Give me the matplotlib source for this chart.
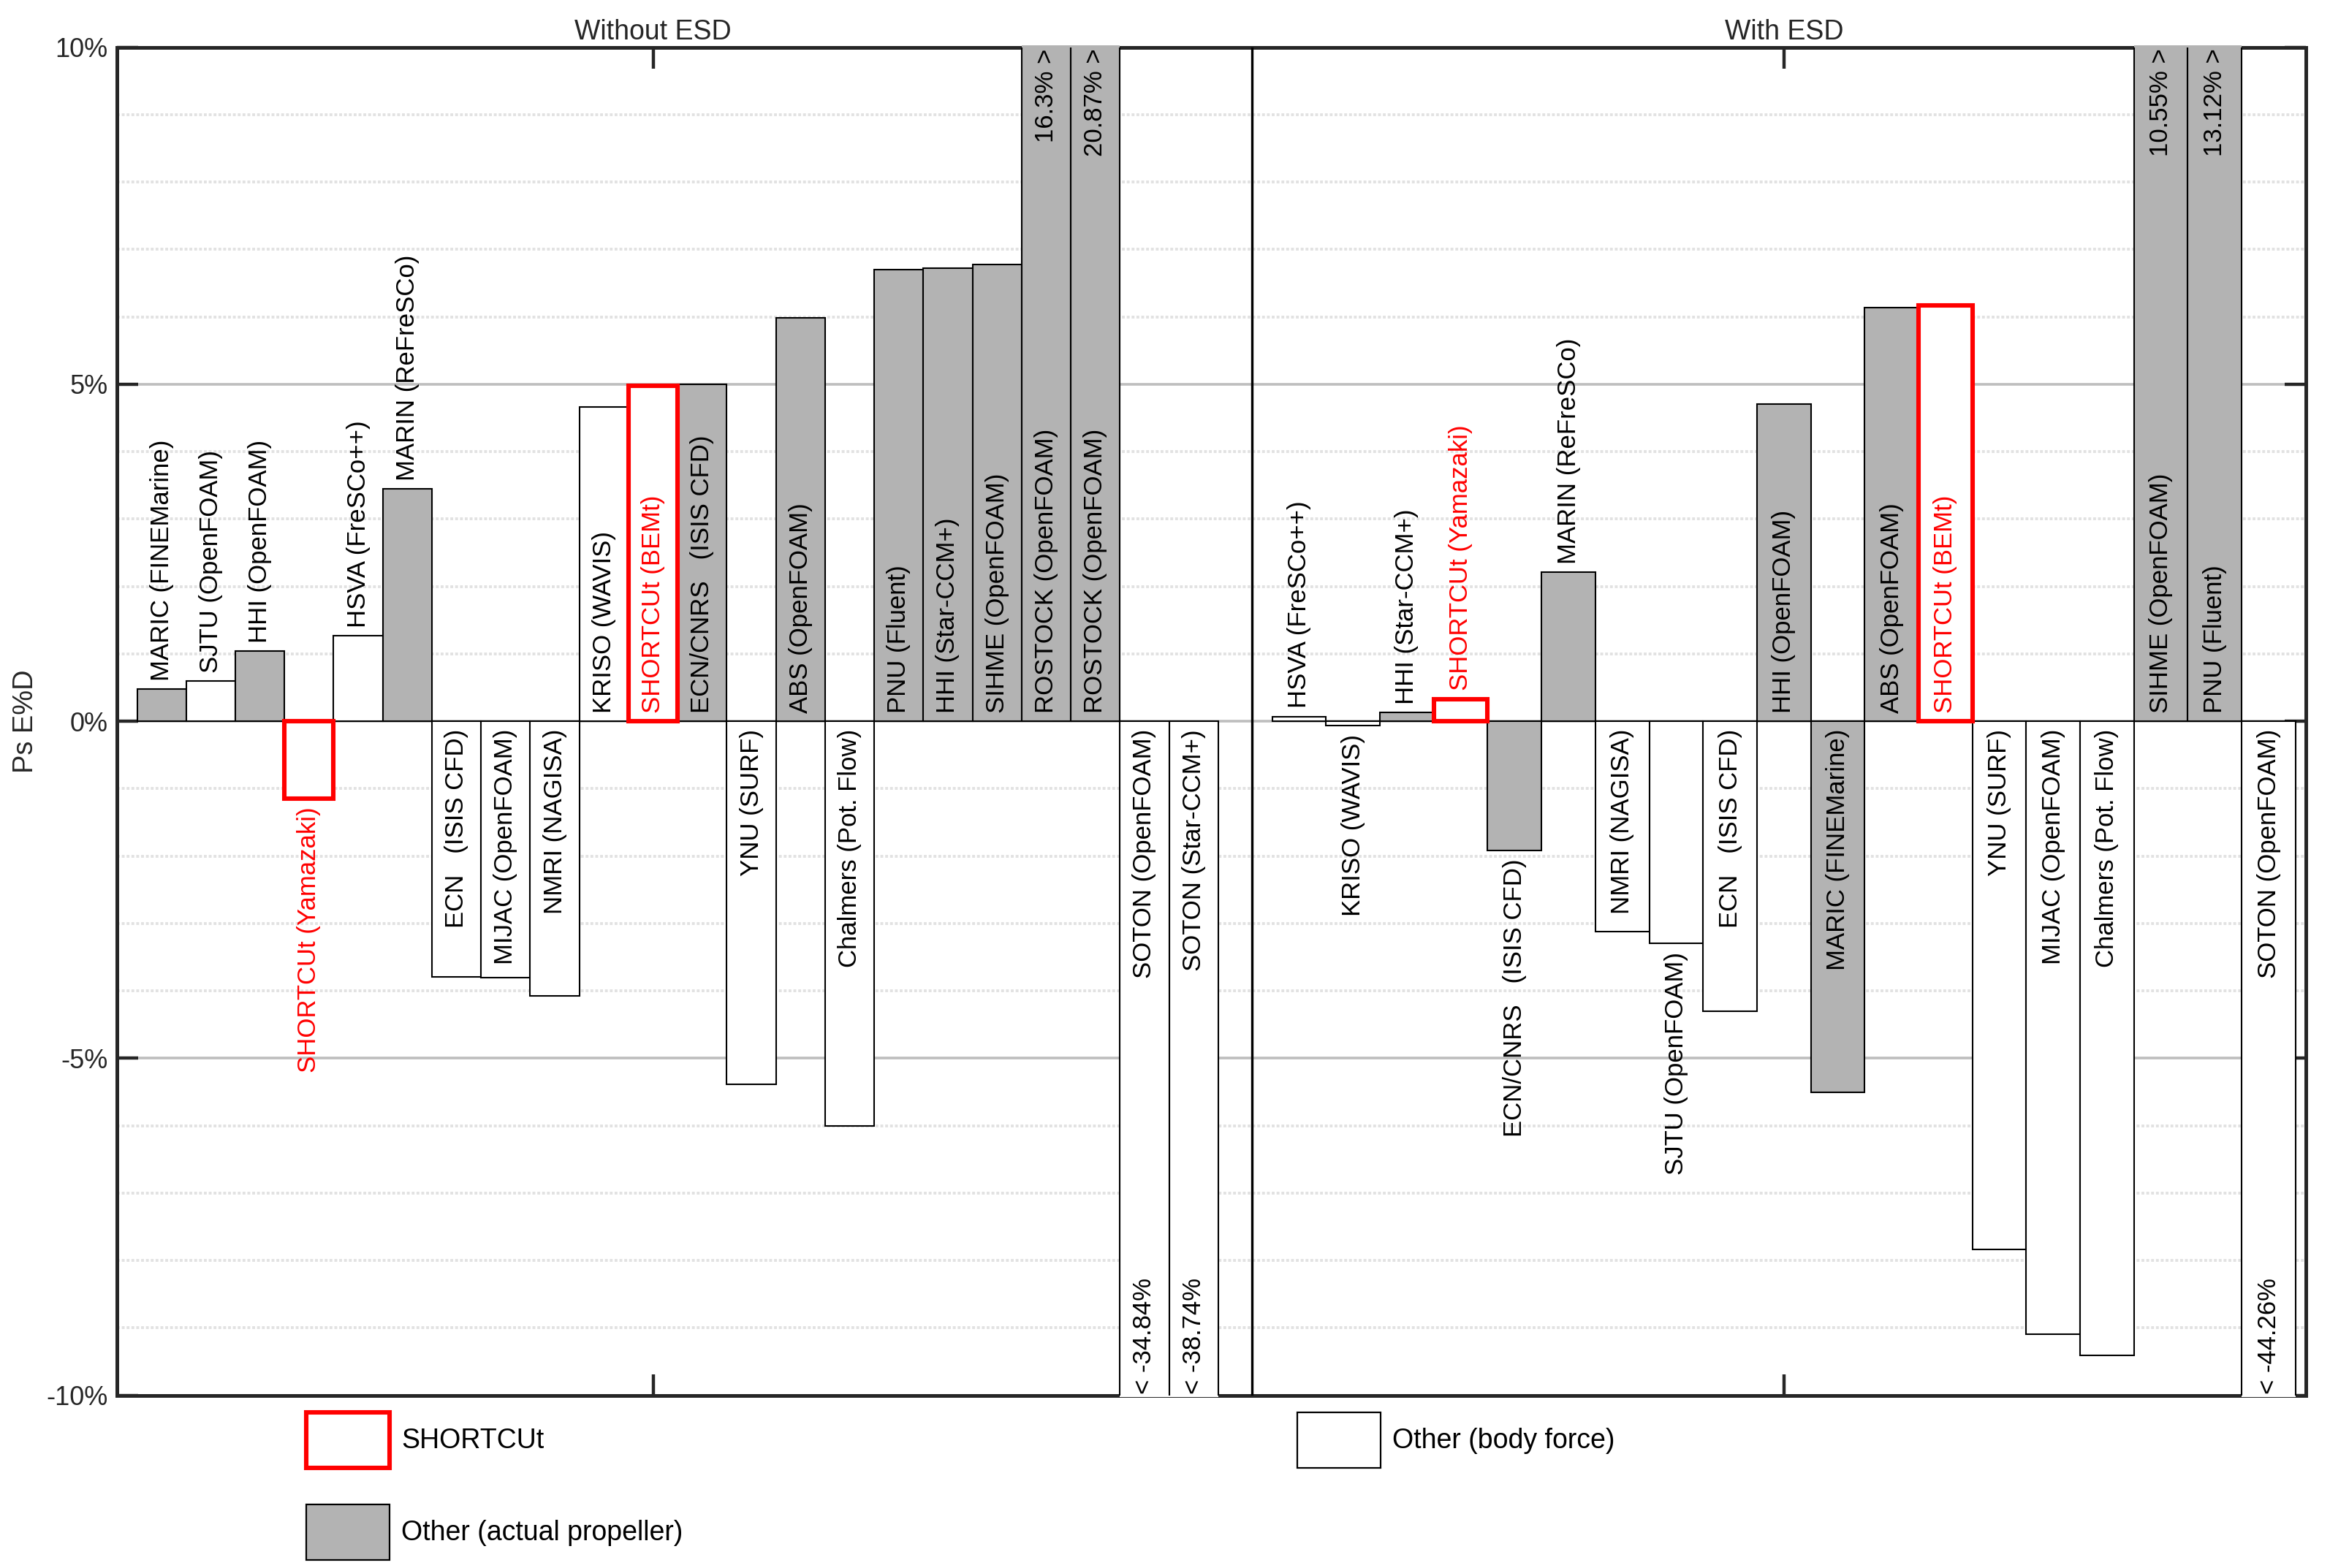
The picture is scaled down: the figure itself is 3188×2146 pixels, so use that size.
import numpy as np
import matplotlib
matplotlib.use("Agg")
import matplotlib.pyplot as plt
from matplotlib.patches import Patch
from matplotlib.ticker import FuncFormatter, MultipleLocator

plt.rcParams['font.family'] = ['Liberation Sans', 'DejaVu Sans']

# ---- data ----
group_names = ['Without ESD', 'With ESD']

left_labels = ['MARIC (FINEMarine)', 'SJTU (OpenFOAM)', 'HHI (OpenFOAM)', 'SHORTCUt (Yamazaki)',
               'HSVA (FreSCo++)', 'MARIN (ReFreSCo)', 'ECN   (ISIS CFD)', 'MIJAC (OpenFOAM)',
               'NMRI (NAGISA)', 'KRISO (WAVIS)', 'SHORTCUt (BEMt)', 'ECN/CNRS   (ISIS CFD)',
               'YNU (SURF)', 'ABS (OpenFOAM)', 'Chalmers (Pot. Flow)', 'PNU (Fluent)',
               'HHI (Star-CCM+)', 'SIHME (OpenFOAM)', 'ROSTOCK (OpenFOAM)', 'ROSTOCK (OpenFOAM)',
               'SOTON (OpenFOAM)', 'SOTON (Star-CCM+)']
left_values = [0.48, 0.60, 1.04, -1.15, 1.27, 3.45, -3.79, -3.80, -4.08, 4.66, 4.98, 5.00,
               -5.39, 5.98, -6.01, 6.70, 6.72, 6.78, 16.3, 20.87, -34.84, -38.74]
left_kinds = ['prop', 'body', 'prop', 'shortcut', 'body', 'prop', 'body', 'body', 'body', 'body',
              'shortcut', 'prop', 'body', 'prop', 'body', 'prop', 'prop', 'prop', 'prop', 'prop',
              'body', 'body']

right_labels = ['HSVA (FreSCo++)', 'KRISO (WAVIS)', 'HHI (Star-CCM+)', 'SHORTCUt (Yamazaki)',
                'ECN/CNRS   (ISIS CFD)', 'MARIN (ReFreSCo)', 'NMRI (NAGISA)', 'SJTU (OpenFOAM)',
                'ECN   (ISIS CFD)', 'HHI (OpenFOAM)', 'MARIC (FINEMarine)', 'ABS (OpenFOAM)',
                'SHORTCUt (BEMt)', 'YNU (SURF)', 'MIJAC (OpenFOAM)', 'Chalmers (Pot. Flow)',
                'SIHME (OpenFOAM)', 'PNU (Fluent)', 'SOTON (OpenFOAM)']
right_values = [0.07, -0.07, 0.13, 0.33, -1.92, 2.21, -3.12, -3.30, -4.30, 4.71, -5.51, 6.14,
                6.17, -7.84, -9.10, -9.41, 10.55, 13.12, -44.26]
right_kinds = ['body', 'body', 'prop', 'shortcut', 'prop', 'prop', 'body', 'body', 'body', 'prop',
               'prop', 'prop', 'shortcut', 'body', 'body', 'body', 'prop', 'prop', 'body']

legend_names = {'shortcut': 'SHORTCUt', 'prop': 'Other (actual propeller)',
                'body': 'Other (body force)'}

# ---- styles ----
GRAY = '#b3b3b3'
AXC = '#262626'
face = {'prop': GRAY, 'body': 'white', 'shortcut': 'white'}
edge = {'prop': 'black', 'body': 'black', 'shortcut': 'red'}
elw = {'prop': 0.75, 'body': 0.75, 'shortcut': 2.2}
txtc = {'prop': 'black', 'body': 'black', 'shortcut': 'red'}

YLIM = 10
DPI = 200
fig = plt.figure(figsize=(3188 / DPI, 2146 / DPI), dpi=DPI)
ax = fig.add_axes([0.0502, 0.1102, 0.93945, 0.85974])
ax.set_ylim(-YLIM, YLIM)

# x layout: left group bars width 1, right group a bit wider
w_left, w_right = 1.0, 1.096
x_left = np.arange(len(left_values)) * w_left
divider = x_left[-1] + w_left / 2 + 0.684
x_right = divider + 0.416 + w_right / 2 + np.arange(len(right_values)) * w_right
ax.set_xlim(x_left[0] - w_left / 2 - 0.409, x_right[-1] + w_right / 2 + 0.21)

ax.axvline(divider, color='black', lw=1.2, zorder=3)

fig.canvas.draw()
renderer = fig.canvas.get_renderer()
ppu = ax.transData.transform((0, 1))[1] - ax.transData.transform((0, 0))[1]
pad = 0.12
eps = 0.03

def draw_group(xs, vals, labels, kinds, width):
    for x, v, lab, k in zip(xs, vals, labels, kinds):
        over = abs(v) > YLIM
        z = 2.2 if k == 'shortcut' else 2
        if over:
            cap = np.clip(v, -YLIM - eps, YLIM + eps)
            ax.bar(x, cap, width, color=face[k], edgecolor='none', zorder=2.6, clip_on=False)
            ax.bar(x, v, width, facecolor='none', edgecolor=edge[k], linewidth=elw[k], zorder=2.7)
        else:
            ax.bar(x, v, width, color=face[k], edgecolor=edge[k], linewidth=elw[k], zorder=z)
        sign = 1 if v >= 0 else -1
        t = ax.text(x, 0, lab, rotation=90, rotation_mode='anchor', va='center',
                    ha='left' if v >= 0 else 'right', fontsize=12.5, color=txtc[k], zorder=4)
        length = t.get_window_extent(renderer).height / ppu
        if length + 2 * pad <= min(abs(v), YLIM):
            t.set_y(sign * pad)
        else:
            t.set_y(v + sign * pad)
        if over:
            if v > 0:
                ax.text(x, YLIM - 0.02, f'{v:g}% >', rotation=90, rotation_mode='anchor',
                        va='center', ha='right', fontsize=12.5, color='black', zorder=4)
            else:
                ax.text(x, -YLIM + 0.02, f'< {v:g}%', rotation=90, rotation_mode='anchor',
                        va='center', ha='left', fontsize=12.5, color='black', zorder=4)

draw_group(x_left, left_values, left_labels, left_kinds, w_left)
draw_group(x_right, right_values, right_labels, right_kinds, w_right)

# axes styling
for s in ax.spines.values():
    s.set_color(AXC)
    s.set_linewidth(1.8)
ax.set_yticks([-10, -5, 0, 5, 10])
ax.yaxis.set_major_formatter(FuncFormatter(lambda v, p: f'{v:g}%'))
ax.yaxis.set_minor_locator(MultipleLocator(1))
ax.set_xticks([x_left[(len(x_left) - 1) // 2], x_right[(len(x_right) - 1) // 2]], group_names)
ax.tick_params(axis='both', which='major', direction='in', length=10.5, width=1.6,
               color=AXC, labelcolor=AXC)
ax.tick_params(axis='x', top=True, labeltop=True, bottom=True, labelbottom=False,
               labelsize=13.5, pad=0.8)
ax.tick_params(axis='y', left=True, right=True, labelsize=13, pad=4.5)
ax.tick_params(which='minor', length=0)
ax.set_axisbelow(True)
ax.grid(axis='y', which='major', color='#bebebe', lw=1.3, linestyle='-')
ax.grid(axis='y', which='minor', color='#e2e2e2', lw=1.4, linestyle=(0, (1, 0.7)))
ax.set_ylabel('Ps E%D', fontsize=13.7, color=AXC)
ax.yaxis.set_label_coords(-0.0357, 0.5)

# legend
def handle(k):
    return Patch(facecolor=face[k], edgecolor=edge[k],
                 linewidth=2.2 if k == 'shortcut' else 0.8)

leg_kw = dict(loc='upper left', frameon=False, fontsize=13.5, handlelength=3.04,
              handleheight=2.74, handletextpad=0.43, labelspacing=1.33, borderpad=0,
              borderaxespad=0)
fig.legend([handle('shortcut'), handle('prop')],
           [legend_names['shortcut'], legend_names['prop']],
           bbox_to_anchor=(0.1314, 0.0993), **leg_kw)
fig.legend([handle('body')], [legend_names['body']],
           bbox_to_anchor=(0.5568, 0.0993), **leg_kw)

fig.savefig('out.png', dpi=DPI)
